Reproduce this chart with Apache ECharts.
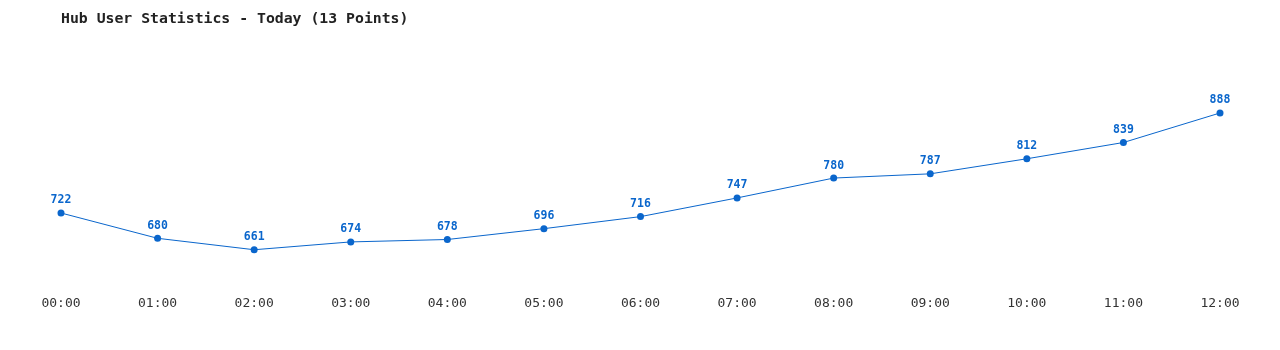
<!DOCTYPE html>
<html><head><meta charset="utf-8">
<script src="https://cdn.jsdelivr.net/npm/echarts@6/dist/echarts.min.js"></script>
<style>html,body{margin:0;padding:0;background:#fff}#c{width:1280px;height:350px}</style>
</head><body><div id="c"></div>
<script>
const categories = ["00:00","01:00","02:00","03:00","04:00","05:00","06:00","07:00","08:00","09:00","10:00","11:00","12:00"];
const users = [722,680,661,674,678,696,716,747,780,787,812,839,888];
const titleText = "Hub User Statistics - Today (13 Points)";
const chart = echarts.init(document.getElementById('c'), null, {renderer:'canvas'});
const mono = '"DejaVu Sans Mono", "Liberation Mono", monospace';
chart.setOption({
  animation:false,
  backgroundColor:'#fff',
  title:{text:titleText, left:56, top:7, textStyle:{fontFamily:mono, fontSize:14.8, fontWeight:'bold', color:'#222'}},
  grid:{left:61, right:60, top:45.5, bottom:63.5},
  xAxis:{type:'category', data:categories, boundaryGap:false,
    axisLine:{show:false}, axisTick:{show:false}, splitLine:{show:false},
    axisLabel:{fontFamily:mono, fontSize:13, color:'#333', margin:11}},
  yAxis:{type:'value', min:600, max:1000, show:false, splitLine:{show:false}},
  series:[{type:'line', data:users, symbol:'circle', symbolSize:7,
    lineStyle:{color:'#0a66cc', width:1}, itemStyle:{color:'#0a66cc'},
    label:{show:true, position:'top', distance:3, fontFamily:mono, fontSize:11.5, fontWeight:'bold', color:'#0a66cc'}}]
});
</script></body></html>
